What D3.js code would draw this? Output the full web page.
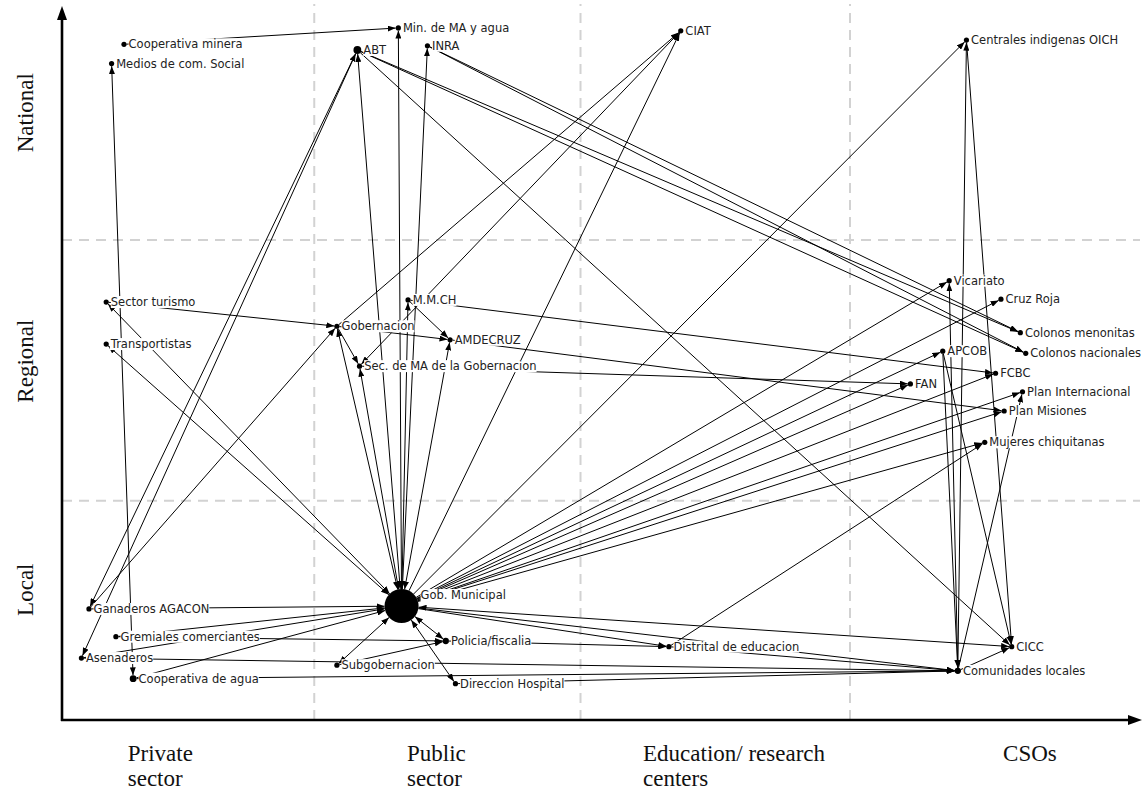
<!DOCTYPE html>
<html>
<head>
<meta charset="utf-8">
<script src="https://cdn.jsdelivr.net/npm/d3@7"></script>
<style>
  body { margin: 0; background: #fff; }
  .lbl { font-family: "DejaVu Sans", sans-serif; font-size: 11.5px; fill: #222; }
  .axlbl { font-family: "Liberation Serif", serif; font-size: 23px; fill: #111; }
</style>
</head>
<body>
<div class="chartHolder"></div>
<script>
// ---- data (positions are % of the axis box: x = actor type, y = level) ----
var nodeIds = ["minMA", "coopMin", "medios", "abt", "inra", "ciat", "oich",
  "turismo", "transp", "mmch", "gobern", "amdecruz", "secMA",
  "vicariato", "cruzRoja", "colMen", "apcob", "colNac", "fcbc", "fan", "planInt", "planMis", "mujeres",
  "gobMun", "ganaderos", "gremiales", "policia", "distrital", "cicc", "asenaderos", "subgob",
  "comunidades", "coopAgua", "direccion"];
var nodeNames = ["Min. de MA y agua", "Cooperativa minera", "Medios de com. Social", "ABT", "INRA", "CIAT",
  "Centrales indigenas OICH", "Sector turismo", "Transportistas", "M.M.CH", "Gobernacion", "AMDECRUZ",
  "Sec. de MA de la Gobernacion", "Vicariato", "Cruz Roja", "Colonos menonitas", "APCOB", "Colonos nacionales",
  "FCBC", "FAN", "Plan Internacional", "Plan Misiones", "Mujeres chiquitanas", "Gob. Municipal",
  "Ganaderos AGACON", "Gremiales comerciantes", "Policia/fiscalia", "Distrital de educacion", "CICC",
  "Asenaderos", "Subgobernacion", "Comunidades locales", "Cooperativa de agua", "Direccion Hospital"];
var nodeX = [31.2, 5.75, 4.6, 27.4, 33.9, 57.4, 83.9,
  4.1, 4.1, 32.1, 25.5, 36.0, 27.6,
  82.3, 87.1, 88.9, 81.7, 89.4, 86.6, 78.7, 89.1, 87.4, 85.6,
  31.5, 2.5, 5.0, 35.6, 56.3, 88.1, 1.8, 25.5,
  83.1, 6.6, 36.5];
var nodeY = [97.2, 94.9, 92.2, 94.1, 94.7, 96.8, 95.5,
  58.7, 52.8, 59.0, 55.3, 53.4, 49.7,
  61.7, 59.1, 54.4, 51.8, 51.5, 48.7, 47.2, 46.1, 43.4, 39.0,
  16.0, 15.6, 11.7, 11.1, 10.3, 10.3, 8.7, 7.7,
  6.9, 5.8, 5.1];
// node weight (drawn radius comes from a scale)
var nodeWeight = [1, 1, 1, 1.5, 1, 1, 1,
  1, 1, 1, 1, 1, 1,
  1, 1, 1, 1, 1, 1, 1, 1, 1, 1,
  12, 1, 1, 1.2, 1, 1, 1, 1,
  1.2, 1.3, 1];

var edgeFrom = ["coopMin", "medios", "gobMun", "gobMun", "gobMun", "gobMun", "gobern", "ciat", "gobMun",
  "abt", "abt", "inra", "inra", "abt", "ganaderos", "abt", "ganaderos", "turismo", "turismo", "transp",
  "ganaderos", "gremiales", "asenaderos", "coopAgua", "gremiales", "asenaderos", "coopAgua", "direccion",
  "gobMun", "gobMun", "subgob", "subgob", "policia", "gobMun", "distrital", "distrital", "gobMun", "gobMun",
  "comunidades", "gobMun", "gobMun", "gobMun", "gobMun", "gobMun", "gobMun", "gobMun", "gobMun",
  "mmch", "amdecruz", "secMA", "gobern", "gobern", "mmch", "gobMun", "gobMun", "gobMun", "gobMun",
  "apcob", "comunidades", "oich", "oich", "apcob", "comunidades"];
var edgeTo = ["minMA", "coopAgua", "minMA", "abt", "inra", "ciat", "ciat", "secMA", "oich",
  "colMen", "colNac", "colMen", "colNac", "cicc", "abt", "asenaderos", "gobern", "gobern", "gobMun", "gobMun",
  "gobMun", "gobMun", "gobMun", "gobMun", "policia", "comunidades", "comunidades", "comunidades",
  "policia", "direccion", "gobMun", "policia", "distrital", "distrital", "comunidades", "mujeres", "cicc", "comunidades",
  "cicc", "vicariato", "cruzRoja", "apcob", "fcbc", "fan", "planInt", "planMis", "mujeres",
  "fcbc", "planMis", "fan", "secMA", "amdecruz", "amdecruz", "mmch", "gobern", "secMA", "amdecruz",
  "comunidades", "vicariato", "comunidades", "cicc", "cicc", "planInt"];
// 1 = reciprocal tie (arrow at both ends)
var edgeBoth = [0, 1, 1, 1, 0, 0, 0, 1, 0,
  0, 0, 0, 0, 0, 1, 0, 0, 0, 1, 1,
  0, 0, 0, 0, 0, 0, 0, 0,
  1, 1, 1, 0, 0, 0, 0, 0, 1, 0,
  0, 0, 0, 0, 0, 0, 0, 0, 0,
  0, 0, 0, 0, 0, 0, 1, 1, 1, 1,
  0, 0, 1, 0, 0, 0];

var sectorNames = [["Private", "sector"], ["Public", "sector"], ["Education/ research", "centers"], ["CSOs"]];
var sectorLabelX = [6.1, 32.0, 53.9, 87.3];
var sectorBreaks = [23.4, 48.1, 73.1];
var levelNames = ["Local", "Regional", "National"];
var levelLabelY = [18.3, 50.4, 85.3];
var levelBreaks = [30.8, 67.4];

// ---- layout ----
var svgW = 1146, svgH = 792;
var margin = { top: 8, right: 6, bottom: 72, left: 62 },
    w = svgW - margin.left - margin.right,
    h = svgH - margin.top - margin.bottom;

var svg = d3.select(".chartHolder").append("svg").attr("width", svgW).attr("height", svgH);

var xScale = d3.scaleLinear().domain([0, 100]).range([margin.left, margin.left + w]);
var yScale = d3.scaleLinear().domain([0, 100]).range([margin.top + h, margin.top]);
var rScale = d3.scaleSqrt().domain([1, 12]).range([2.6, 17]);

var defs = svg.append("defs");
defs.append("marker").attr("id", "arrow")
  .attr("viewBox", "0 -3 8 6").attr("refX", 8).attr("refY", 0)
  .attr("markerUnits", "userSpaceOnUse").attr("markerWidth", 8).attr("markerHeight", 6)
  .attr("orient", "auto-start-reverse")
  .append("path").attr("d", "M0,-3L8,0L0,3Z").attr("fill", "#000");

// dashed quadrant lines
svg.append("g").selectAll("line").data(sectorBreaks).enter().append("line")
  .attr("x1", function (d) { return xScale(d); }).attr("x2", function (d) { return xScale(d); })
  .attr("y1", yScale(0)).attr("y2", yScale(100) - 4)
  .attr("stroke", "#d2d2d2").attr("stroke-width", 2).attr("stroke-dasharray", "10,7");
svg.append("g").selectAll("line").data(levelBreaks).enter().append("line")
  .attr("x1", xScale(0)).attr("x2", xScale(100))
  .attr("y1", function (d) { return yScale(d); }).attr("y2", function (d) { return yScale(d); })
  .attr("stroke", "#d2d2d2").attr("stroke-width", 2).attr("stroke-dasharray", "10,7");

// axes with arrowheads
var x0 = xScale(0), y0 = yScale(0), xEnd = xScale(100), yEnd = yScale(100);
svg.append("line").attr("x1", x0).attr("y1", y0 + 1).attr("x2", x0).attr("y2", yEnd + 8)
  .attr("stroke", "#000").attr("stroke-width", 2.6);
svg.append("path").attr("d", "M" + x0 + "," + (yEnd - 2) + "L" + (x0 - 5) + "," + (yEnd + 12) + "L" + (x0 + 5) + "," + (yEnd + 12) + "Z");
svg.append("line").attr("x1", x0 - 1).attr("y1", y0).attr("x2", xEnd - 6).attr("y2", y0)
  .attr("stroke", "#000").attr("stroke-width", 2.6);
svg.append("path").attr("d", "M" + (xEnd + 2) + "," + y0 + "L" + (xEnd - 12) + "," + (y0 - 5) + "L" + (xEnd - 12) + "," + (y0 + 5) + "Z");

// axis category labels
var sl = svg.append("g").selectAll("text").data(sectorNames).enter().append("text")
  .attr("class", "axlbl")
  .attr("x", function (d, i) { return xScale(sectorLabelX[i]); })
  .attr("y", y0 + 41);
sl.selectAll("tspan").data(function (d) { return d; }).enter().append("tspan")
  .attr("x", function () { return d3.select(this.parentNode).attr("x"); })
  .attr("dy", function (d, i) { return i === 0 ? 0 : 25; })
  .text(function (d) { return d; });

svg.append("g").selectAll("text").data(levelNames).enter().append("text")
  .attr("class", "axlbl").attr("text-anchor", "middle")
  .attr("transform", function (d, i) { return "translate(33," + yScale(levelLabelY[i]) + ") rotate(-90)"; })
  .text(function (d) { return d; });

// nodes
var nodes = nodeIds.map(function (id, i) {
  return { id: id, name: nodeNames[i], x: xScale(nodeX[i]), y: yScale(nodeY[i]), r: rScale(nodeWeight[i]) };
});
var byId = {};
nodes.forEach(function (n) { byId[n.id] = n; });

var edges = edgeFrom.map(function (s, i) {
  return { s: byId[s], t: byId[edgeTo[i]], both: edgeBoth[i] };
});

// ties
svg.append("g").selectAll("line").data(edges).enter().append("line")
  .attr("x1", function (d) { return trim(d.s, d.t)[0]; })
  .attr("y1", function (d) { return trim(d.s, d.t)[1]; })
  .attr("x2", function (d) { return trim(d.t, d.s)[0]; })
  .attr("y2", function (d) { return trim(d.t, d.s)[1]; })
  .attr("stroke", "#000").attr("stroke-width", 1)
  .attr("marker-end", "url(#arrow)")
  .attr("marker-start", function (d) { return d.both ? "url(#arrow)" : null; });

function trim(a, b) {
  var dx = b.x - a.x, dy = b.y - a.y, len = Math.sqrt(dx * dx + dy * dy);
  return [a.x + dx / len * a.r, a.y + dy / len * a.r];
}

// labels on white boxes (they hide the ties beneath, as in the original)
var lg = svg.append("g");
nodes.forEach(function (n) {
  var off = n.r > 6 ? -n.r * 0.65 : 0;
  var t = lg.append("text").attr("class", "lbl")
    .attr("x", n.x + n.r + 2).attr("y", n.y + off + 4).text(n.name);
  var bb = t.node().getBBox();
  lg.insert("rect", function () { return t.node(); })
    .attr("x", bb.x).attr("y", bb.y + 1).attr("width", bb.width).attr("height", bb.height - 2)
    .attr("fill", "#fff");
});

svg.append("g").selectAll("circle").data(nodes).enter().append("circle")
  .attr("cx", function (d) { return d.x; }).attr("cy", function (d) { return d.y; })
  .attr("r", function (d) { return d.r; }).attr("fill", "#000");
</script>
</body>
</html>
